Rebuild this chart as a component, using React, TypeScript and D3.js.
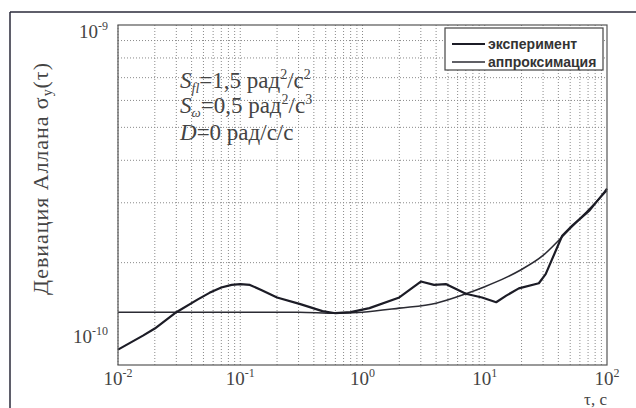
import React from "react";
import * as d3 from "d3";

// экспериментальная кривая (τ, σ в единицах 1e-10)
const tauExp = [0.01, 0.016, 0.02, 0.03, 0.045, 0.056, 0.07, 0.085, 0.1, 0.12, 0.15, 0.2, 0.31, 0.47, 0.6, 0.8, 1.14, 2.0, 3.0, 3.85, 4.8, 7.0, 9.5, 12.4, 15, 19, 27.7, 31.5, 43, 52, 72, 95, 100];
const sigmaExp = [1.11, 1.22, 1.28, 1.43, 1.56, 1.63, 1.69, 1.72, 1.73, 1.72, 1.66, 1.58, 1.51, 1.44, 1.42, 1.43, 1.47, 1.58, 1.76, 1.72, 1.73, 1.62, 1.58, 1.53, 1.6, 1.68, 1.74, 1.85, 2.4, 2.57, 2.85, 3.22, 3.3];

// аппроксимация
const tauFit = [0.01, 0.1, 0.3, 0.6, 1, 2, 4, 7, 10, 15, 20, 30, 40, 50, 70, 100];
const sigmaFit = [1.43, 1.43, 1.43, 1.42, 1.43, 1.47, 1.52, 1.62, 1.7, 1.81, 1.91, 2.1, 2.32, 2.52, 2.85, 3.26];

const xTickExp = [-2, -1, 0, 1, 2];
const yTickExp = [-10, -9];
const legendLabels = ["эксперимент", "аппроксимация"];

const W = 636;
const H = 408;
const left = 118, right = 607, top = 25, bottom = 365;

const App = () => {
  const x = d3.scaleLog().domain([0.01, 100]).range([left, right]);
  const y = d3.scaleLog().domain([1e-10, 1e-9]).range([bottom, top]);

  // сетка: 1..9 в каждой декаде
  const xGrid: number[] = [];
  for (let e = -2; e < 2; e++) for (let m = 1; m < 10; m++) xGrid.push(m * Math.pow(10, e));
  const yGrid: number[] = [];
  for (let m = 2; m < 10; m++) yGrid.push(m * 1e-10);

  const line = d3
    .line<[number, number]>()
    .x((d) => x(d[0]))
    .y((d) => y(d[1] * 1e-10));
  const expPath = line.curve(d3.curveLinear)(tauExp.map((t, i) => [t, sigmaExp[i]]));
  const fitPath = line.curve(d3.curveMonotoneX)(tauFit.map((t, i) => [t, sigmaFit[i]]));

  const serif = "'Liberation Serif', 'DejaVu Serif', serif";
  const sans = "'Liberation Sans', Arial, sans-serif";

  return (
    <svg width={W} height={H} style={{ position: "absolute", left: 0, top: 0, background: "#fff" }}>
      {/* внешняя рамка */}
      <line x1={10} y1={12} x2={W} y2={12} stroke="#2a2a3a" strokeWidth={1.5} />
      <line x1={10} y1={12} x2={10} y2={H} stroke="#2a2a3a" strokeWidth={1.5} />

      {/* сетка */}
      <g stroke="#8a8a8a" strokeWidth={1} strokeDasharray="1,2">
        {xGrid.map((t, i) => (
          <line key={"gx" + i} x1={x(t)} x2={x(t)} y1={top} y2={bottom} />
        ))}
        {yGrid.map((v, i) => (
          <line key={"gy" + i} x1={left} x2={right} y1={y(v)} y2={y(v)} />
        ))}
      </g>

      {/* кривые */}
      <path d={fitPath || ""} fill="none" stroke="#2b2b33" strokeWidth={1.6} />
      <path d={expPath || ""} fill="none" stroke="#1c1c26" strokeWidth={2.2} strokeLinejoin="round" />

      {/* рамка графика */}
      <rect x={left} y={top} width={right - left} height={bottom - top} fill="none" stroke="#555" strokeWidth={1.2} />

      {/* подписи осей */}
      <g fontFamily={serif} fontSize={19} fill="#444">
        {xTickExp.map((e) => (
          <text key={"xt" + e} x={x(Math.pow(10, e))} y={385} textAnchor="middle">
            10<tspan dy={-8} fontSize={12}>{e}</tspan>
          </text>
        ))}
        {yTickExp.map((e) => (
          <text key={"yt" + e} x={left - 10} y={y(Math.pow(10, e)) + (e === -9 ? 13 : -22)} textAnchor="end">
            10<tspan dy={-8} fontSize={12}>{e}</tspan>
          </text>
        ))}
        <text x={right} y={405} textAnchor="end" fontSize={17}>τ, с</text>
      </g>

      {/* подпись оси Y */}
      <text
        transform={`translate(48,${(63 + 295) / 2}) rotate(-90)`}
        textAnchor="middle"
        fontFamily={serif}
        fontSize={22}
        fill="#444"
        textLength={232}
        lengthAdjust="spacing"
      >
        Девиация Аллана σ<tspan dy={4} fontSize={14}>y</tspan>
        <tspan dy={-4}>(τ)</tspan>
      </text>

      {/* параметры */}
      <g fontFamily={serif} fontSize={23} fill="#444">
        <text x={180} y={88}>
          <tspan fontStyle="italic">S</tspan>
          <tspan dy={5} fontSize={14} fontStyle="italic">fl</tspan>
          <tspan dy={-5}>=1,5 рад</tspan>
          <tspan dy={-9} fontSize={14}>2</tspan>
          <tspan dy={9}>/с</tspan>
          <tspan dy={-9} fontSize={14}>2</tspan>
        </text>
        <text x={180} y={113}>
          <tspan fontStyle="italic">S</tspan>
          <tspan dy={4} fontSize={13} fontStyle="italic">ω</tspan>
          <tspan dy={-4}>=0,5 рад</tspan>
          <tspan dy={-9} fontSize={14}>2</tspan>
          <tspan dy={9}>/с</tspan>
          <tspan dy={-9} fontSize={14}>3</tspan>
        </text>
        <text x={180} y={140}>
          <tspan fontStyle="italic">D</tspan>
          <tspan>=0 рад/с/с</tspan>
        </text>
      </g>

      {/* легенда */}
      <g>
        <rect x={445} y={28} width={158} height={42} fill="#fff" stroke="#444" strokeWidth={1.2} />
        {legendLabels.map((lab, i) => (
          <g key={lab}>
            <line x1={452} x2={485} y1={44 + i * 18} y2={44 + i * 18} stroke={i === 0 ? "#1c1c26" : "#2b2b33"} strokeWidth={i === 0 ? 2.2 : 1.6} />
            <text x={488} y={49 + i * 18} fontFamily={sans} fontSize={14} fontWeight="bold" fill="#333">
              {lab}
            </text>
          </g>
        ))}
      </g>
    </svg>
  );
};

export default App;
